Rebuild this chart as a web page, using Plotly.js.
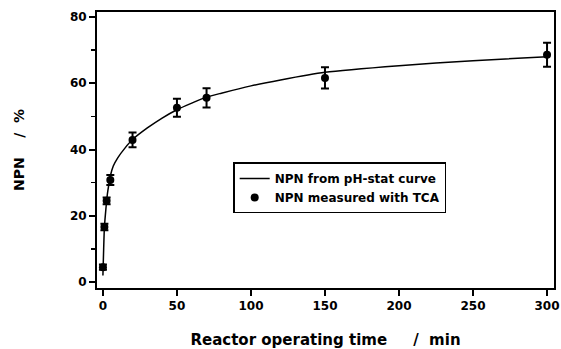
<!DOCTYPE html>
<html>
<head>
<meta charset="utf-8">
<script src="https://cdn.plot.ly/plotly-3.0.1.min.js"></script>
<style>html,body{margin:0;padding:0;background:#fff;}#chart{width:561px;height:349px;}</style>
</head>
<body>
<div id="chart"></div>
<script>
// pH-stat curve
const curveTime = [0, 0.5, 1, 2, 3, 4, 5, 7, 10, 15, 20, 30, 40, 50, 60, 70, 80, 100, 120, 150, 200, 250, 300];
const curveNPN  = [2, 10, 16.5, 22, 26.5, 29.5, 32, 35, 37.5, 40.5, 43, 46.5, 49.5, 52, 54, 55.8, 57, 59.2, 61, 63.3, 65.3, 66.8, 68];
// TCA measurements
const tcaTime = [0, 1, 2.5, 5, 20, 50, 70, 150, 300];
const tcaNPN  = [4.5, 16.6, 24.5, 30.8, 42.9, 52.6, 55.6, 61.6, 68.6];
const tcaErr  = [0.8, 1.0, 1.0, 1.5, 2.2, 2.7, 2.9, 3.2, 3.6];
const yTicks = [0, 20, 40, 60, 80];
const xTicks = [0, 50, 100, 150, 200, 250, 300];

const font = {family: '"DejaVu Sans", "Liberation Sans", Arial, sans-serif', color: '#000', weight: 'bold'};

const traces = [
  {
    x: curveTime, y: curveNPN, type: 'scatter', mode: 'lines',
    name: 'NPN from pH-stat curve',
    line: {color: '#000', width: 1.5, shape: 'spline', smoothing: 0.6}
  },
  {
    x: tcaTime, y: tcaNPN, type: 'scatter', mode: 'markers',
    name: 'NPN measured with TCA',
    marker: {color: '#000', size: 8, symbol: 'circle'},
    error_y: {type: 'data', array: tcaErr, visible: true, color: '#000', thickness: 2, width: 4}
  }
];

const layout = {
  width: 561, height: 349,
  margin: {l: 97, r: 7, t: 12, b: 61},
  paper_bgcolor: '#fff', plot_bgcolor: '#fff',
  font: Object.assign({size: 12}, font),
  showlegend: true,
  legend: {
    x: 0.298, y: 0.455, xanchor: 'left', yanchor: 'top',
    bgcolor: '#fff', bordercolor: '#000', borderwidth: 1.5,
    font: Object.assign({size: 12}, font),
    tracegroupgap: 0, itemwidth: 30
  },
  xaxis: {
    range: [-4, 304.7],
    tickvals: xTicks, ticktext: xTicks.map(String),
    ticks: 'outside', ticklen: 6, tickwidth: 2, tickcolor: '#000',
    showline: true, linecolor: '#000', linewidth: 2, mirror: true,
    showgrid: false, zeroline: false,
    tickfont: Object.assign({size: 12}, font),
    title: {text: 'Reactor operating time\u00a0\u00a0\u00a0\u00a0\u00a0/\u00a0\u00a0min', font: Object.assign({size: 15}, font), standoff: 23}
  },
  yaxis: {
    range: [-1.8, 81.5],
    tickvals: yTicks, ticktext: yTicks.map(String),
    ticks: 'outside', ticklen: 6, tickwidth: 2, tickcolor: '#000',
    minor: {tickvals: [10, 30, 50, 70], ticks: 'outside', ticklen: 4, tickwidth: 1.5, tickcolor: '#000', showgrid: false},
    showline: true, linecolor: '#000', linewidth: 2, mirror: true,
    showgrid: false, zeroline: false,
    tickfont: Object.assign({size: 12}, font),
    title: {text: 'NPN\u00a0\u00a0\u00a0\u00a0/\u00a0\u00a0%', font: Object.assign({size: 14}, font), standoff: 42}
  }
};

Plotly.newPlot('chart', traces, layout, {staticPlot: true, displayModeBar: false});
</script>
</body>
</html>
